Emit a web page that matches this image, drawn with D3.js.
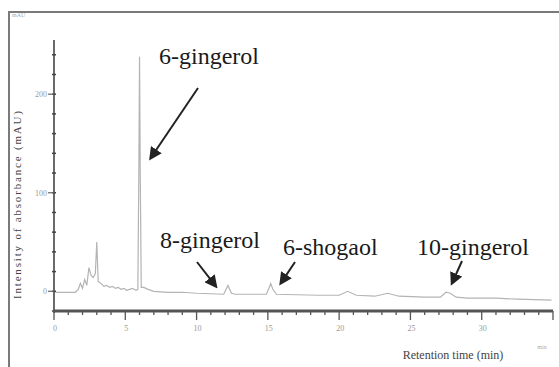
<!DOCTYPE html>
<html>
<head>
<meta charset="utf-8">
<script src="https://cdn.jsdelivr.net/npm/d3@7"></script>
<style>
  body { margin: 0; background: #fff; }
  svg { display: block; }
  text { font-family: "Liberation Serif", "DejaVu Serif", serif; }
</style>
</head>
<body>
<svg id="chart"></svg>
<script>
// chromatogram trace (retention time in min, absorbance in mAU)
const times = [
  0.1, 1.5, 1.7, 1.85, 2.0, 2.15, 2.3, 2.45, 2.6, 2.75, 2.9, 3.0, 3.1, 3.3, 3.5,
  3.7, 3.9, 4.1, 4.3, 4.5, 4.7, 4.9, 5.1, 5.3, 5.5, 5.75, 5.88, 5.95, 6.0, 6.05,
  6.12, 6.3, 6.6, 7.0, 8.0, 9.0, 10.0, 11.0, 11.9, 12.2, 12.45, 12.7, 14.0, 14.9,
  15.1, 15.2, 15.35, 15.6, 17.0, 18.5, 20.0, 20.6, 21.2, 22.5, 23.4, 24.2, 26.0,
  27.1, 27.5, 27.8, 28.2, 29.0, 31.0, 32.5, 34.9
];
const intensity = [
  -1, -1, 2, 8, 3, 12, 6, 24, 16, 14, 18, 50, 10, 8, 5,
  6, 4, 5, 3, 4, 2, 3, 1, 2, 3, 1, 2, 120, 238, 120,
  4, 4, 2, 0, -1, -1, -2, -2.5, -3, 6, -2, -3, -3, -3,
  4, 8, 2, -3, -3.5, -4, -4, 0, -4, -5, -2, -5, -6,
  -6, -1, -2, -6, -7, -7, -8, -9
];
const xTicks = [0, 5, 10, 15, 20, 25, 30];
const yTicks = [0, 100, 200];
const peakNames = ["6-gingerol", "8-gingerol", "6-shogaol", "10-gingerol"];
const peakTimes = [6.0, 12.2, 15.2, 27.7];

const W = 559, H = 367;
const svg = d3.select("#chart").attr("width", W).attr("height", H);

const x = d3.scaleLinear().domain([0, 35]).range([54, 553]);
const y = d3.scaleLinear().domain([-20, 255]).range([311, 40]);

// scanned page frame
svg.append("path")
  .attr("d", `M9,${H} V12 H${W}`)
  .attr("fill", "none")
  .attr("stroke", "#7a7a7a")
  .attr("stroke-width", 2);
svg.append("text").attr("x", 12).attr("y", 17)
  .attr("fill", "#aaa").style("font-size", "6px").text("mAU");

// trace
const pts = times.map((t, i) => [t, intensity[i]]);
svg.append("path")
  .datum(pts)
  .attr("fill", "none")
  .attr("stroke", "#b4b4b4")
  .attr("stroke-width", 1.2)
  .attr("d", d3.line().x((d) => x(d[0])).y((d) => y(d[1])));

// y axis
const $y = svg.append("g").attr("transform", `translate(${x(0)},0)`);
$y.append("line").attr("y1", y(255)).attr("y2", y(-20) + 2)
  .attr("stroke", "#444").attr("stroke-width", 1.6);
$y.selectAll(".minor").data(d3.range(-20, 241, 20)).enter().append("line")
  .attr("x1", -2).attr("x2", 2)
  .attr("y1", (d) => y(d)).attr("y2", (d) => y(d))
  .attr("stroke", "#444").attr("stroke-width", 1.5);
$y.selectAll(".major").data(yTicks).enter().append("line")
  .attr("x1", -6).attr("x2", 0)
  .attr("y1", (d) => y(d)).attr("y2", (d) => y(d))
  .attr("stroke", "#666").attr("stroke-width", 1.2);
$y.selectAll(".lab").data(yTicks).enter().append("text")
  .attr("x", -7).attr("y", (d) => y(d) + 3)
  .attr("text-anchor", "end")
  .attr("fill", "#999")
  .style("font-size", "8px")
  .text((d) => d);

// x axis
const $x = svg.append("g").attr("transform", `translate(0,${y(-20)})`);
$x.append("line").attr("x1", x(0)).attr("x2", x(35))
  .attr("stroke", "#555").attr("stroke-width", 3);
$x.selectAll(".minor").data(d3.range(0, 36, 1)).enter().append("line")
  .attr("x1", (d) => x(d)).attr("x2", (d) => x(d))
  .attr("y1", 0).attr("y2", (d) => (d % 5 === 0 ? 9 : 4))
  .attr("stroke", "#555").attr("stroke-width", 1.3);
$x.selectAll(".lab").data(xTicks).enter().append("text")
  .attr("x", (d) => x(d) + 1).attr("y", 20)
  .attr("text-anchor", "middle")
  .attr("fill", "#999")
  .style("font-size", "8px")
  .text((d) => d);

// axis titles
svg.append("text")
  .attr("transform", "translate(21,205) rotate(-90)")
  .attr("text-anchor", "middle")
  .attr("fill", "#444")
  .attr("textLength", 188)
  .style("font-size", "11px")
  .text("Intensity of absorbance (mAU)");
svg.append("text")
  .attr("x", 453).attr("y", 359)
  .attr("text-anchor", "middle")
  .attr("fill", "#444")
  .style("font-size", "12px")
  .text("Retention time (min)");
svg.append("text").attr("x", 542).attr("y", 349)
  .attr("text-anchor", "middle").attr("fill", "#aaa")
  .style("font-size", "6px").text("min");

// peak labels with arrows (text and arrow tail placed by hand, head near the peak)
svg.append("defs").append("marker")
  .attr("id", "head").attr("viewBox", "0 0 10 10")
  .attr("refX", 8).attr("refY", 5)
  .attr("markerWidth", 6.5).attr("markerHeight", 6.5)
  .attr("orient", "auto")
  .append("path").attr("d", "M0,0 L10,5 L0,10 z").attr("fill", "#222");

const labelPos = [
  { tx: 159, ty: 64, x1: 198, y1: 88, dx: 11, v: 135 },
  { tx: 160, ty: 248, x1: 197, y1: 262, dx: -12, v: 5 },
  { tx: 283, ty: 255, x1: 295, y1: 262, dx: 10, v: 8 },
  { tx: 417, ty: 255, x1: 462, y1: 261, dx: 3, v: 8 },
];
const $ann = svg.append("g");
peakNames.forEach((name, i) => {
  const p = labelPos[i];
  $ann.append("text")
    .attr("x", p.tx).attr("y", p.ty)
    .attr("fill", "#1a1a1a")
    .style("font-size", "24px")
    .text(name);
  $ann.append("line")
    .attr("x1", p.x1).attr("y1", p.y1)
    .attr("x2", x(peakTimes[i]) + p.dx).attr("y2", y(p.v))
    .attr("stroke", "#222").attr("stroke-width", 2)
    .attr("marker-end", "url(#head)");
});
</script>
</body>
</html>
